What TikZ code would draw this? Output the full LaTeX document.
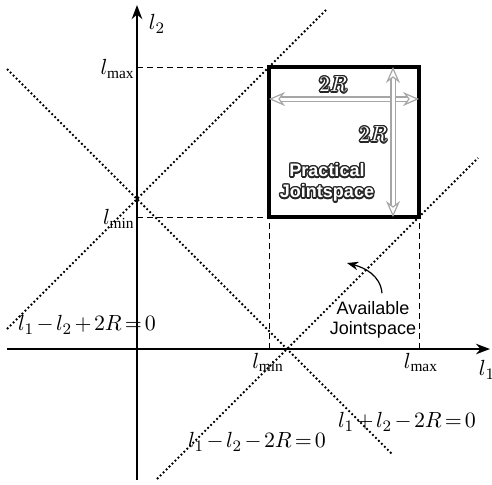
\documentclass[tikz,border=0pt]{standalone}
\usepackage{fontspec}
\setmainfont{Liberation Serif}
\newfontfamily\arialfont{Liberation Sans}
\usepackage{contour}
\contourlength{0.7pt}
\newcommand{\hollow}[1]{\contour{black!85}{\textcolor{white}{#1}}}
\newcommand{\tightmath}{\medmuskip=2mu\relax\thickmuskip=2.5mu\relax}
\usetikzlibrary{arrows.meta, positioning, calc}

\begin{document}
\begin{tikzpicture}[x=25pt, y=25pt, >=Stealth,
  bound/.style={line width=0.9pt, dash pattern=on 0.9pt off 1.2pt},
  guide/.style={line width=0.5pt, dash pattern=on 3pt off 2pt},
  span/.style={draw=gray!70, double=white, double distance=1.5pt, line width=0.6pt,
    {Stealth[fill=white, length=8pt, width=7pt]}-{Stealth[fill=white, length=8pt, width=7pt]}},
  lab/.style={font=\fontsize{11}{12}\selectfont\tightmath}]
  \useasboundingbox (-2.74,-2.70) rectangle (7.10,6.98);
  % Scale: 2R = 3, l_min = 2.64, l_max = 5.64
  \coordinate (O) at (0,0);
  % Boundary lines of the available jointspace
  % l1 - l2 + 2R = 0 : l2 = l1 + 3
  \draw[bound] (-2.6,0.4) -- (3.8,6.8);
  % l1 + l2 - 2R = 0 : l2 = 3 - l1
  \draw[bound] (-2.6,5.6) -- (5.1,-2.1);
  % l1 - l2 - 2R = 0 : l2 = l1 - 3
  \draw[bound] (0.4,-2.6) -- (6.82,3.82);
  % Axes
  \draw[->, line width=0.9pt] (-2.6,0) -- (7.06,0);
  \draw[->, line width=0.9pt] (0,-2.62) -- (0,6.88);
  \node[lab] (l2lab) at (0.4,6.5) {$l_2$};
  \node[lab] (l1lab) at (7.0,-0.42) {$l_1$};
  % Limits
  \draw[guide] (0,5.64) -- (2.64,5.64);
  \draw[guide] (0,2.64) -- (2.64,2.64);
  \draw[guide] (2.64,0) -- (2.64,2.64);
  \draw[guide] (5.64,0) -- (5.64,2.64);
  \node[lab, left, inner sep=1pt] (ymax) at (0,5.6) {$l_{\max}$};
  \node[lab, left, inner sep=1pt] (ymin) at (0,2.6) {$l_{\min}$};
  \node[lab, below, inner sep=2pt] (xmin) at (2.62,0) {$l_{\min}$};
  \node[lab, below, inner sep=2pt] (xmax) at (5.68,0) {$l_{\max}$};
  % Practical jointspace: square of side 2R
  \draw[line width=2pt] (2.64,2.64) rectangle (5.64,5.64);
  \draw[span] (2.64,5.0) -- (5.64,5.0);
  \draw[span] (5.12,5.64) -- (5.12,2.64);
  \node[font=\fontsize{10.5}{12}\selectfont] (wlab) at (3.92,5.28) {\hollow{$2R$}};
  \node[font=\fontsize{10.5}{12}\selectfont] (hlab) at (4.72,4.28) {\hollow{$2R$}};
  \node[align=center, font=\arialfont\bfseries\fontsize{9}{10.5}\selectfont] (practical) at (3.8,3.31)
    {\hollow{Practical}\\\hollow{Jointspace}};
  % Available jointspace
  \node[align=center, font=\arialfont\fontsize{9}{10}\selectfont, inner sep=1pt] (avail) at (4.72,0.58)
    {Available\\Jointspace};
  \coordinate (inside) at (4.2,1.72);
  \draw[->, line width=0.6pt] ([shift={(0.18,0.12)}]avail.north) to[out=95, in=-15] (inside);
  % Equations of the lines
  \node[lab] (eqA) at (-1.0,0.48) {$l_1-l_2+2R=0$};
  \node[lab] (eqB) at (2.4,-1.86) {$l_1-l_2-2R=0$};
  \node[lab] (eqC) at (5.4,-1.46) {$l_1+l_2-2R=0$};
\end{tikzpicture}
\end{document}
